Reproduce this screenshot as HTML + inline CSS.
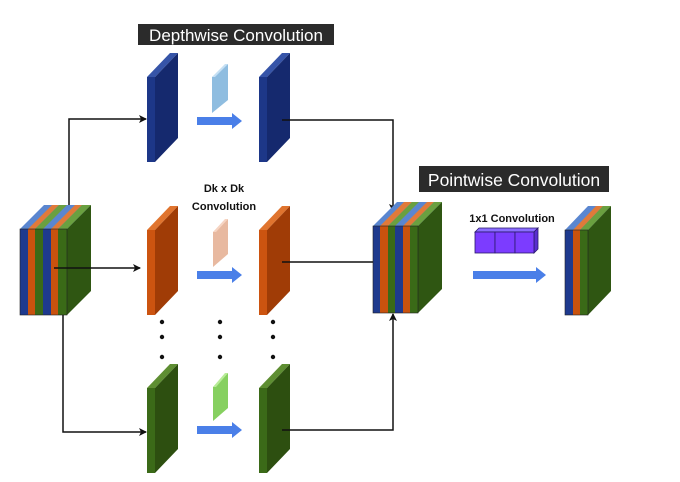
<!DOCTYPE html>
<html><head><meta charset="utf-8"><style>
html,body{margin:0;padding:0;background:#fff;}
svg{display:block;font-family:"Liberation Sans","DejaVu Sans",sans-serif;}
</style></head><body>
<svg width="680" height="482" viewBox="0 0 680 482" xmlns="http://www.w3.org/2000/svg">
<defs>
<marker id="ah" markerWidth="8" markerHeight="8" refX="7" refY="4" orient="auto" markerUnits="userSpaceOnUse">
<path d="M0,0 L8,4 L0,8 L2,4 Z" fill="#111"/></marker>
</defs>

<!-- Input block -->
<g>
<polygon points="20,229 67,229 91,205 44,205" fill="#5a86d0"/>
<polygon points="28,229 35,229 59,205 52,205" fill="#e07a3a"/>
<polygon points="35,229 43,229 67,205 59,205" fill="#6aa040"/>
<polygon points="51,229 58,229 82,205 75,205" fill="#e07a3a"/>
<polygon points="58,229 67,229 91,205 82,205" fill="#6aa040"/>
<polygon points="67,229 91,205 91,291 67,315" fill="#2f5612"/>
<rect x="20" y="229" width="8" height="86" fill="#1e3a8e"/>
<rect x="28" y="229" width="7" height="86" fill="#c9520e"/>
<rect x="35" y="229" width="8" height="86" fill="#3a6a17"/>
<rect x="43" y="229" width="8" height="86" fill="#1e3a8e"/>
<rect x="51" y="229" width="7" height="86" fill="#c9520e"/>
<rect x="58" y="229" width="9" height="86" fill="#3a6a17"/>
<rect x="20" y="229" width="47" height="86" fill="none" stroke="#222" stroke-width="0.6"/>
</g>

<!-- Connectors from input -->
<polyline points="69,205 69,119 146,119" fill="none" stroke="#111" stroke-width="1.5" marker-end="url(#ah)"/>
<line x1="54" y1="268" x2="140" y2="268" stroke="#111" stroke-width="1.5" marker-end="url(#ah)"/>
<polyline points="63,315 63,432 146,432" fill="none" stroke="#111" stroke-width="1.5" marker-end="url(#ah)"/>

<!-- Slabs: blue -->
<g>
<polygon points="147,77 155,77 178,53 170,53" fill="#3654a8"/>
<polygon points="155,77 178,53 178,138 155,162" fill="#15296e"/>
<rect x="147" y="77" width="8" height="85" fill="#1d3788"/>
<polygon points="259,77 267,77 290,53 282,53" fill="#3654a8"/>
<polygon points="267,77 290,53 290,138 267,162" fill="#15296e"/>
<rect x="259" y="77" width="8" height="85" fill="#1d3788"/>
</g>
<!-- orange -->
<g>
<polygon points="147,230 155,230 178,206 170,206" fill="#e0742e"/>
<polygon points="155,230 178,206 178,291 155,315" fill="#a03c06"/>
<rect x="147" y="230" width="8" height="85" fill="#cc5410"/>
<polygon points="259,230 267,230 290,206 282,206" fill="#e0742e"/>
<polygon points="267,230 290,206 290,291 267,315" fill="#a03c06"/>
<rect x="259" y="230" width="8" height="85" fill="#cc5410"/>
</g>
<!-- green -->
<g>
<polygon points="147,388 155,388 178,364 170,364" fill="#5e8e32"/>
<polygon points="155,388 178,364 178,449 155,473" fill="#2d4f10"/>
<rect x="147" y="388" width="8" height="85" fill="#3b6a18"/>
<polygon points="259,388 267,388 290,364 282,364" fill="#5e8e32"/>
<polygon points="267,388 290,364 290,449 267,473" fill="#2d4f10"/>
<rect x="259" y="388" width="8" height="85" fill="#3b6a18"/>
</g>

<!-- kernels -->
<polygon points="212,77 228,64 228,100 212,113" fill="#8fbde0"/>
<polygon points="212,77 215,77 228,64 225,64" fill="#c5e0f4"/>
<polygon points="213,232 228,219 228,254 213,267" fill="#e8b9a0"/>
<polygon points="213,232 216,232 228,219 225,219" fill="#f6d4c2"/>
<polygon points="213,387 228,373 228,408 213,421" fill="#86d060"/>
<polygon points="213,387 216,387 228,373 225,373" fill="#b8ec98"/>

<!-- blue arrows -->
<g fill="#4a7fe8">
<polygon points="197,117 232,117 232,113 242,121 232,129 232,125 197,125"/>
<polygon points="197,271 232,271 232,267 242,275 232,283 232,279 197,279"/>
<polygon points="197,426 232,426 232,422 242,430 232,438 232,434 197,434"/>
<polygon points="473,271 536,271 536,267 546,275 536,283 536,279 473,279"/>
</g>

<!-- dots -->
<g fill="#111">
<circle cx="162" cy="322" r="2.2"/><circle cx="162" cy="337" r="2.2"/><circle cx="162" cy="357" r="2.2"/>
<circle cx="220" cy="322" r="2.2"/><circle cx="220" cy="337" r="2.2"/><circle cx="220" cy="357" r="2.2"/>
<circle cx="273" cy="322" r="2.2"/><circle cx="273" cy="337" r="2.2"/><circle cx="273" cy="357" r="2.2"/>
</g>

<!-- connectors to concat -->
<polyline points="282,120 393,120 393,211" fill="none" stroke="#111" stroke-width="1.5" marker-end="url(#ah)"/>
<line x1="282" y1="262" x2="386" y2="262" stroke="#111" stroke-width="1.5" marker-end="url(#ah)"/>
<polyline points="282,430 393,430 393,314" fill="none" stroke="#111" stroke-width="1.5" marker-end="url(#ah)"/>

<!-- concat block -->
<g>
<polygon points="373,226 418,226 442,202 397,202" fill="#5a86d0"/>
<polygon points="380,226 388,226 412,202 404,202" fill="#e07a3a"/>
<polygon points="388,226 395,226 419,202 412,202" fill="#6aa040"/>
<polygon points="403,226 410,226 434,202 427,202" fill="#e07a3a"/>
<polygon points="410,226 418,226 442,202 434,202" fill="#6aa040"/>
<polygon points="418,226 442,202 442,289 418,313" fill="#2f5612"/>
<rect x="373" y="226" width="7" height="87" fill="#1e3a8e"/>
<rect x="380" y="226" width="8" height="87" fill="#c9520e"/>
<rect x="388" y="226" width="7" height="87" fill="#3a6a17"/>
<rect x="395" y="226" width="8" height="87" fill="#1e3a8e"/>
<rect x="403" y="226" width="7" height="87" fill="#c9520e"/>
<rect x="410" y="226" width="8" height="87" fill="#3a6a17"/>
<rect x="373" y="226" width="45" height="87" fill="none" stroke="#222" stroke-width="0.6"/>
</g>

<!-- output block -->
<g>
<polygon points="565,230 588,230 611,206 588,206" fill="#5a86d0"/>
<polygon points="573,230 580,230 603,206 596,206" fill="#e07a3a"/>
<polygon points="580,230 588,230 611,206 603,206" fill="#6aa040"/>
<polygon points="588,230 611,206 611,291 588,315" fill="#2f5612"/>
<rect x="565" y="230" width="8" height="85" fill="#1e3a8e"/>
<rect x="573" y="230" width="7" height="85" fill="#c9520e"/>
<rect x="580" y="230" width="8" height="85" fill="#3a6a17"/>
<rect x="565" y="230" width="23" height="85" fill="none" stroke="#222" stroke-width="0.6"/>
</g>

<!-- purple cubes -->
<g stroke="#2a1a6a" stroke-width="0.8">
<polygon points="475,232 479,228 538,228 534,232" fill="#8a6cff"/>
<polygon points="534,232 538,228 538,249 534,253" fill="#5a2ed0"/>
<rect x="475" y="232" width="20" height="21" fill="#7c3cff"/>
<rect x="495" y="232" width="20" height="21" fill="#7c3cff"/>
<rect x="515" y="232" width="19" height="21" fill="#7c3cff"/>
</g>

<!-- labels -->
<rect x="138" y="24" width="196" height="21" fill="#2b2b2b"/>
<text x="236" y="41" font-size="17" fill="#fff" text-anchor="middle">Depthwise Convolution</text>
<rect x="419" y="166" width="190" height="26" fill="#2b2b2b"/>
<text x="514" y="186" font-size="17.5" fill="#fff" text-anchor="middle">Pointwise Convolution</text>
<text x="224" y="192" font-size="11" font-weight="bold" fill="#111" text-anchor="middle">Dk x Dk</text>
<text x="224" y="210" font-size="11" font-weight="bold" fill="#111" text-anchor="middle">Convolution</text>
<text x="512" y="222" font-size="11" font-weight="bold" fill="#111" text-anchor="middle">1x1 Convolution</text>
</svg>
</body></html>
